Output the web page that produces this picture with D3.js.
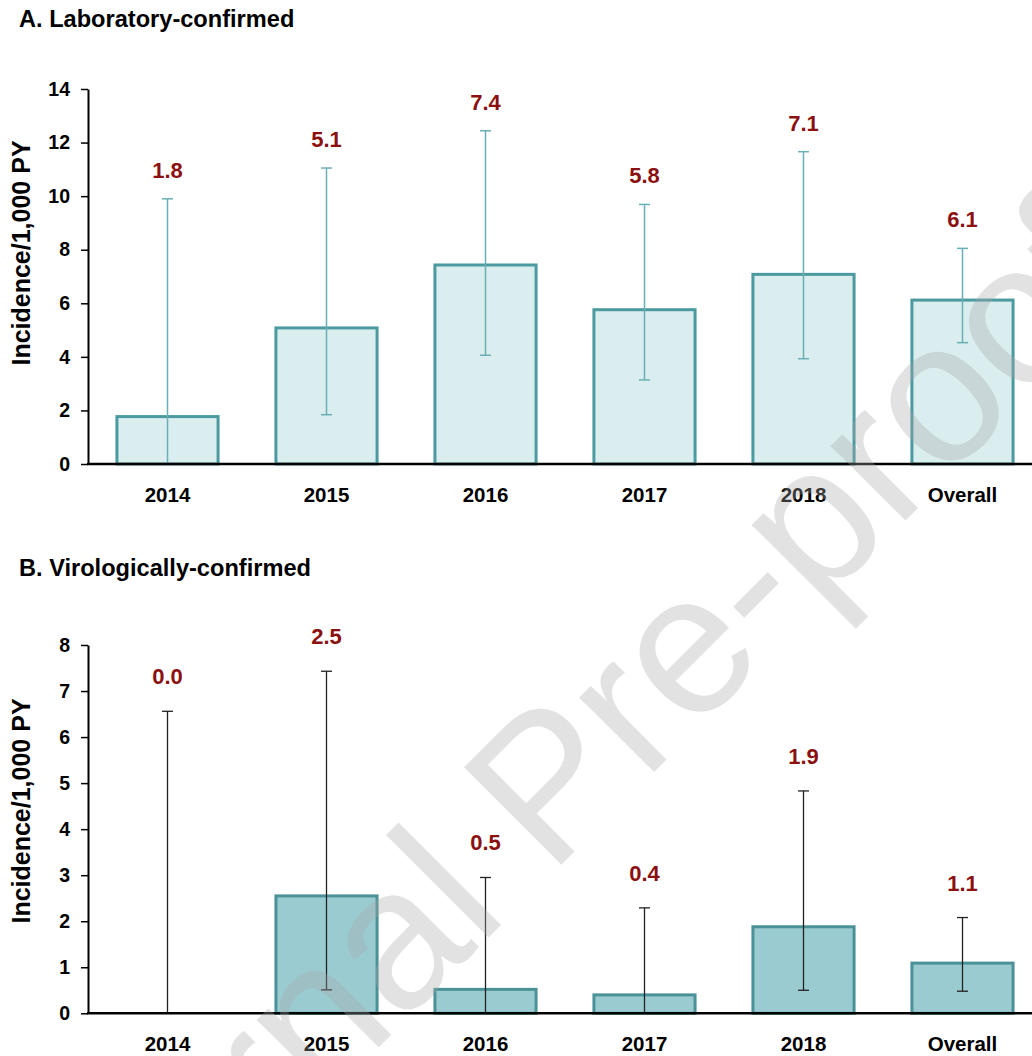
<!DOCTYPE html>
<html>
<head>
<meta charset="utf-8">
<script src="https://cdn.jsdelivr.net/npm/d3@7"></script>
<style>
  html, body { margin: 0; padding: 0; background: #fff; }
  svg { display: block; }
</style>
</head>
<body>
<svg id="chart" width="1032" height="1056"></svg>
<script>
// ---------- Data ----------
const categories = ["2014", "2015", "2016", "2017", "2018", "Overall"];

// Panel A: Laboratory-confirmed
const valuesA = [1.77, 5.08, 7.43, 5.76, 7.08, 6.12];
const labelsA = ["1.8", "5.1", "7.4", "5.8", "7.1", "6.1"];
const lowerA  = [0, 1.84, 4.06, 3.14, 3.93, 4.53];
const upperA  = [9.9, 11.05, 12.44, 9.69, 11.66, 8.05];
const ticksA  = [0, 2, 4, 6, 8, 10, 12, 14];

// Panel B: Virologically-confirmed
const valuesB = [0, 2.55, 0.52, 0.40, 1.88, 1.09];
const labelsB = ["0.0", "2.5", "0.5", "0.4", "1.9", "1.1"];
const lowerB  = [0, 0.51, 0, 0, 0.50, 0.48];
const upperB  = [6.56, 7.43, 2.95, 2.29, 4.83, 2.08];
const ticksB  = [0, 1, 2, 3, 4, 5, 6, 7, 8];

const titleA = "A. Laboratory-confirmed";
const titleB = "B. Virologically-confirmed";
const yTitle = "Incidence/1,000 PY";
const watermark = "Journal Pre-proof";

// ---------- Drawing ----------
const FONT = "'Liberation Sans', Arial, Helvetica, sans-serif";
const svg = d3.select("#chart");

const x = d3.scaleBand()
  .domain(categories)
  .range([88, 1042])
  .paddingInner(0.345)
  .paddingOuter(0.1725);

function panel(cfg) {
  const g = svg.append("g");
  const y = d3.scaleLinear().domain(cfg.domain).range(cfg.range);
  const rows = categories.map((c, i) => ({
    c, v: cfg.values[i], lab: cfg.labels[i], lo: cfg.lower[i], hi: cfg.upper[i]
  }));

  // title
  svg.append("text")
    .attr("x", 19).attr("y", cfg.titleY)
    .attr("font-family", FONT).attr("font-weight", "bold")
    .attr("font-size", 23.6).attr("fill", "#000")
    .text(cfg.title);

  // bars
  g.selectAll("rect.bar").data(rows).enter().append("rect")
    .attr("class", "bar")
    .attr("x", d => x(d.c) + 1.5)
    .attr("width", x.bandwidth() - 3)
    .attr("y", d => y(d.v))
    .attr("height", d => Math.max(0, y(0) - y(d.v)))
    .attr("fill", cfg.fill)
    .attr("stroke", cfg.stroke)
    .attr("stroke-width", 3);

  // error bars
  const eb = g.append("g")
    .attr("stroke", cfg.errColor)
    .attr("stroke-width", cfg.errWidth);
  eb.selectAll("line.v").data(rows).enter().append("line")
    .attr("x1", d => x(d.c) + x.bandwidth() / 2)
    .attr("x2", d => x(d.c) + x.bandwidth() / 2)
    .attr("y1", d => y(d.lo))
    .attr("y2", d => y(d.hi));
  eb.selectAll("line.hi").data(rows).enter().append("line")
    .attr("x1", d => x(d.c) + x.bandwidth() / 2 - 5.5)
    .attr("x2", d => x(d.c) + x.bandwidth() / 2 + 5.5)
    .attr("y1", d => y(d.hi))
    .attr("y2", d => y(d.hi));
  eb.selectAll("line.lo").data(rows.filter(d => d.lo > 0)).enter().append("line")
    .attr("x1", d => x(d.c) + x.bandwidth() / 2 - 5.5)
    .attr("x2", d => x(d.c) + x.bandwidth() / 2 + 5.5)
    .attr("y1", d => y(d.lo))
    .attr("y2", d => y(d.lo));

  // y axis
  const yAxis = d3.axisLeft(y)
    .tickValues(cfg.ticks)
    .tickFormat(d3.format("d"))
    .tickSizeInner(7)
    .tickSizeOuter(0)
    .tickPadding(11);
  const ya = g.append("g").attr("transform", "translate(88,0)").call(yAxis);
  ya.select(".domain").attr("stroke", "#000").attr("stroke-width", 2);
  ya.selectAll(".tick line").attr("stroke", "#000").attr("stroke-width", 1.5);
  ya.selectAll(".tick text")
    .attr("font-family", FONT).attr("font-weight", "bold")
    .attr("font-size", 19.5).attr("fill", "#000");

  // x axis line (no ticks)
  const xAxis = d3.axisBottom(x).tickSize(0).tickPadding(0);
  const xa = g.append("g").attr("transform", `translate(0,${y(0)})`).call(xAxis);
  xa.select(".domain")
    .attr("d", `M87,0H1032`)
    .attr("stroke", "#000").attr("stroke-width", 2.5);
  xa.selectAll(".tick text")
    .attr("dy", null)
    .attr("y", 38)
    .attr("font-family", FONT).attr("font-weight", "bold")
    .attr("font-size", 20.5).attr("fill", "#000");

  // axis title
  svg.append("text")
    .attr("transform", `translate(30,${cfg.yTitleY}) rotate(-90)`)
    .attr("text-anchor", "middle")
    .attr("font-family", FONT).attr("font-weight", "bold")
    .attr("font-size", 25).attr("fill", "#000")
    .text(yTitle);

  // value labels
  g.selectAll("text.val").data(rows).enter().append("text")
    .attr("class", "val")
    .attr("x", d => x(d.c) + x.bandwidth() / 2)
    .attr("y", d => y(d.hi) - cfg.labelOffset)
    .attr("text-anchor", "middle")
    .attr("font-family", FONT).attr("font-weight", "bold")
    .attr("font-size", 22).attr("fill", "#8b1010")
    .text(d => d.lab);
}

panel({
  title: titleA, titleY: 27,
  domain: [0, 14], range: [464, 89], ticks: ticksA,
  values: valuesA, labels: labelsA, lower: lowerA, upper: upperA,
  fill: "#daedef", stroke: "#4a9a9f", errColor: "#6aafb4", errWidth: 1.5,
  yTitleY: 253, labelOffset: 21
});

panel({
  title: titleB, titleY: 576,
  domain: [0, 8], range: [1013.3, 645], ticks: ticksB,
  values: valuesB, labels: labelsB, lower: lowerB, upper: upperB,
  fill: "#9acbd1", stroke: "#4a9297", errColor: "#222", errWidth: 1.3,
  yTitleY: 811, labelOffset: 27
});

// watermark
svg.append("text")
  .attr("transform", "translate(593,833) rotate(-45)")
  .attr("text-anchor", "middle")
  .attr("font-family", FONT)
  .attr("font-size", 200)
  .attr("fill", "#a8a8a8")
  .attr("fill-opacity", 0.33)
  .text(watermark);
</script>
</body>
</html>
